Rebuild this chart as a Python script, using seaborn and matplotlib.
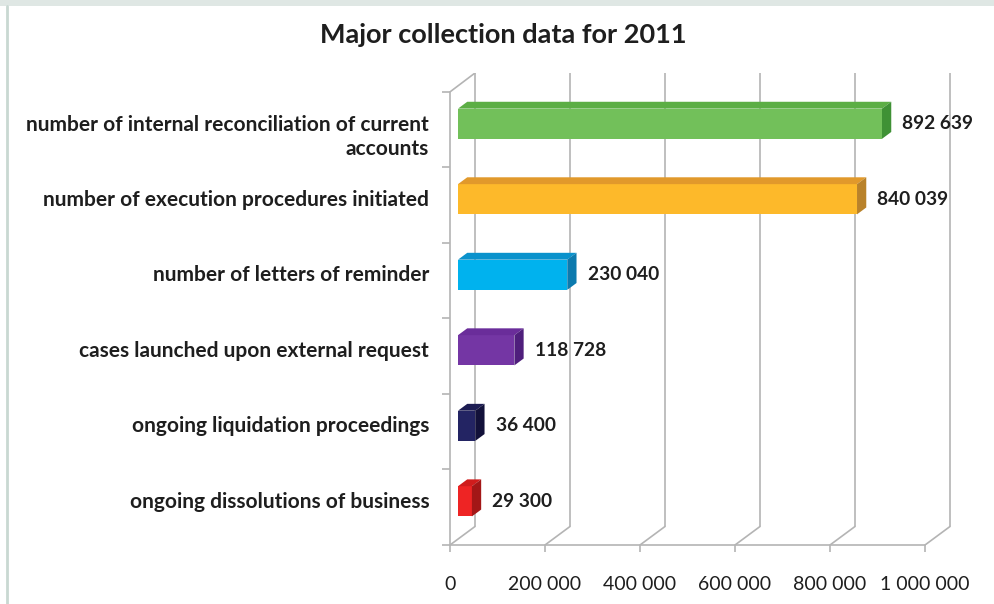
import numpy as np
import pandas as pd
import matplotlib
matplotlib.use('Agg')
import matplotlib.pyplot as plt
from matplotlib.patches import Polygon, Rectangle
from matplotlib.lines import Line2D
import seaborn as sns

## data
categories = ['number of internal reconciliation of current\naccounts',
              'number of execution procedures initiated',
              'number of letters of reminder',
              'cases launched upon external request',
              'ongoing liquidation proceedings',
              'ongoing dissolutions of business']
values = [892639, 840039, 230040, 118728, 36400, 29300]
value_labels = ['892 639', '840 039', '230 040', '118 728', '36 400', '29 300']
ticks = [0, 200000, 400000, 600000, 800000, 1000000]
tick_labels = ['0', '200 000', '400 000', '600 000', '800 000', '1 000 000']

front_colors = ['#72c05a', '#fdb92a', '#00b2ee', '#7436a4', '#232463', '#ee2424']
top_colors = ['#5cae45', '#e1992b', '#0a92cc', '#6a2d9a', '#1c1c52', '#d01c1c']
side_colors = ['#3f9135', '#b9822a', '#0c7aae', '#4f1f7c', '#12113a', '#a31717']

grid_c = '#b4b4b4'
text_c = '#1e1e1e'

sns.set_theme(style='white')
plt.rcParams['font.family'] = ['Lato', 'DejaVu Sans']

W, H = 995, 604
fig = plt.figure(figsize=(W / 100, H / 100), dpi=100)
ax = fig.add_axes([450 / W, 1 - 545 / H, 540 / W, 472 / H])

df = pd.DataFrame({'category': categories, 'value': values})
sns.barplot(data=df, x='value', y='category', hue='category', palette=front_colors,
            width=0.4, saturation=1, legend=False, ax=ax, zorder=2,
            edgecolor='none', linewidth=0)

## 3d look: one pixel in data units, depth of the back wall
px = 1e6 / 475
ax.set_xlim(0, 540 * px)
ax.set_ylim(5.5, -0.75)
dx = 25 * px
dy = -18.5 / 75.5

# back wall grid and floor lines
for t in ticks:
    ax.plot([t + dx, t + dx], [5.5 + dy, -0.75], color=grid_c, lw=1.2, zorder=0.5)
    ax.plot([t, t + dx], [5.5, 5.5 + dy], color=grid_c, lw=1.2, zorder=0.5)
ax.plot([0, dx], [-0.5, -0.75], color=grid_c, lw=1.2, zorder=0.5)

# shift bars into the depth and add top and side faces
bars = sorted(ax.patches, key=lambda p: p.get_y())
for i, p in enumerate(bars):
    p.set_x(p.get_x() + 0.32 * dx)
    p.set_y(p.get_y() + 0.32 * dy)
    x0, y0 = p.get_x(), p.get_y()
    x1, y1 = x0 + p.get_width(), y0 + p.get_height()
    ex, ey = 0.37 * dx, 0.37 * dy
    ax.add_patch(Polygon([(x0, y0), (x1, y0), (x1 + ex, y0 + ey), (x0 + ex, y0 + ey)],
                         closed=True, facecolor=top_colors[i], edgecolor='none', zorder=2))
    ax.add_patch(Polygon([(x1, y0), (x1, y1), (x1 + ex, y1 + ey), (x1 + ex, y0 + ey)],
                         closed=True, facecolor=side_colors[i], edgecolor='none', zorder=2))
    ax.text(x1 + ex + 11 * px, (y0 + y1) / 2, value_labels[i], ha='left', va='center',
            fontsize=13.8, fontweight='bold', color=text_c, clip_on=False)

## axes
for s in ['top', 'right']:
    ax.spines[s].set_visible(False)
ax.spines['left'].set_bounds(-0.5, 5.5)
ax.spines['bottom'].set_bounds(0, 1e6)
for s in ['left', 'bottom']:
    ax.spines[s].set_color(grid_c)
    ax.spines[s].set_linewidth(1.2)

ax.set_xticks(ticks, tick_labels)
ax.tick_params(axis='x', bottom=True, length=5, width=1.2, color=grid_c, pad=17,
               labelsize=14, labelcolor=text_c)

y_locs = np.arange(len(categories)) - 0.1
y_locs[0] += 0.15
ax.set_yticks(y_locs, categories)
ax.set_yticks(np.arange(-0.5, 6, 1), minor=True)
ax.tick_params(axis='y', which='major', left=False, length=0, pad=15, labelsize=15,
               labelcolor=text_c)
ax.tick_params(axis='y', which='minor', left=True, length=6, width=1.2, color=grid_c)
for lab in ax.get_yticklabels():
    lab.set_fontweight('bold')
    lab.set_linespacing(1.2)
ax.set_xlabel('')
ax.set_ylabel('')

## title and frame of the chart
fig.text(503 / W, 1 - 35 / H, 'Major collection data for 2011', ha='center', va='center',
         fontsize=19.5, fontweight='bold', color=text_c)
fig.patches.append(Rectangle((0, 1 - 6 / H), 1, 6 / H, transform=fig.transFigure,
                             facecolor='#dfe7e4', edgecolor='none'))
fig.lines.append(Line2D([7.5 / W, 7.5 / W], [0, 1 - 6 / H], transform=fig.transFigure,
                        color='#c9d8d2', lw=2))

fig.savefig('out.png', dpi=100)
